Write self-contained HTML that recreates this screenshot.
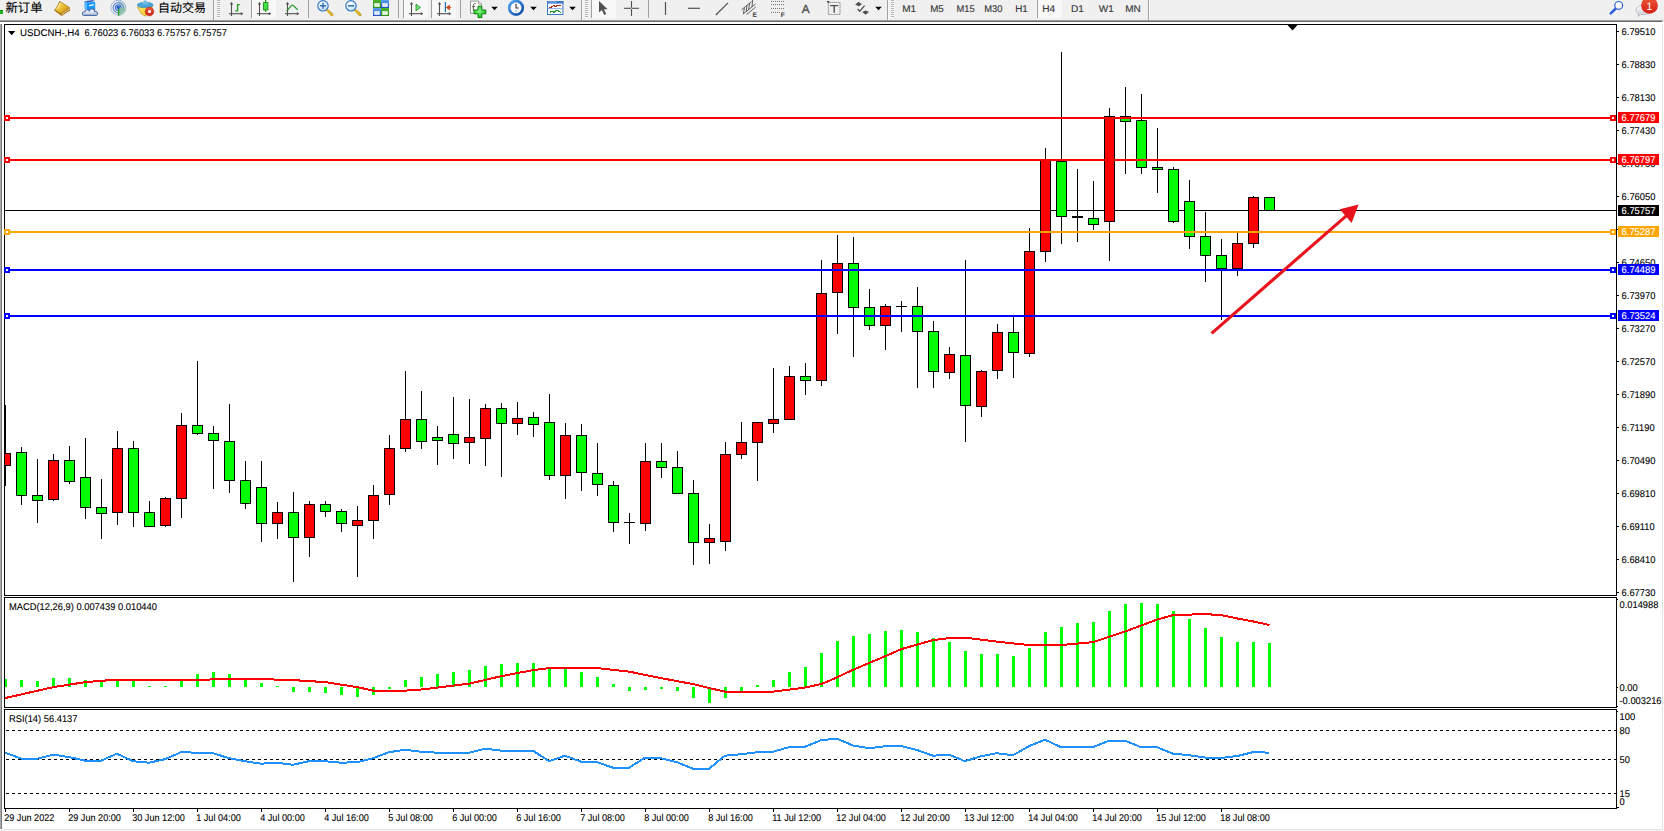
<!DOCTYPE html>
<html lang="zh-CN">
<head>
<meta charset="utf-8">
<title>USDCNH-,H4</title>
<style>
html,body{margin:0;padding:0;background:#fff;width:1664px;height:831px;overflow:hidden}
body{position:relative;font-family:"Liberation Sans","Noto Sans CJK SC",sans-serif}
svg{display:block}
svg text{white-space:pre}
</style>
</head>
<body>
<div id="chartwin" style="position:absolute;left:0;top:0;width:1664px;height:831px">
<svg id="chart" width="1664" height="831" viewBox="0 0 1664 831" font-family='"Liberation Sans", "Noto Sans CJK SC", sans-serif' text-rendering="geometricPrecision" style="position:absolute;left:0;top:0">
<defs><clipPath id="cm"><rect x="5" y="25" width="1611" height="570"/></clipPath><clipPath id="c2"><rect x="5" y="598" width="1611" height="109"/></clipPath><clipPath id="c3"><rect x="5" y="710" width="1611" height="98"/></clipPath></defs>
<g shape-rendering="crispEdges">
<rect x="0" y="22" width="1" height="807" fill="#a9a9a9"/><rect x="1" y="22" width="1" height="807" fill="#787878"/>
<rect x="1662" y="22" width="1" height="807" fill="#e3e3e3"/>
<rect x="2" y="829" width="1661" height="1" fill="#e3e3e3"/><rect x="0" y="830" width="1664" height="1" fill="#f4f4f4"/>
<rect x="4" y="24" width="1" height="785" fill="#000"/>
<rect x="1616" y="24" width="1" height="785" fill="#000"/>
<rect x="4" y="24" width="1613" height="1" fill="#000"/>
<rect x="4" y="595" width="1613" height="1" fill="#000"/>
<rect x="4" y="597" width="1613" height="1" fill="#000"/>
<rect x="4" y="707" width="1613" height="1" fill="#000"/>
<rect x="4" y="709" width="1613" height="1" fill="#000"/>
<rect x="4" y="808" width="1613" height="1" fill="#000"/>
<rect x="2" y="596" width="1617" height="1" fill="#fff"/><rect x="2" y="708" width="1617" height="1" fill="#fff"/>
</g>
<path d="M1287.5 25 L1297.5 25 L1292.5 30.5 Z" fill="#000"/>
<path d="M8 31 L15.4 31 L11.7 35.2 Z" fill="#000"/>
<g shape-rendering="crispEdges" clip-path="url(#cm)">
<rect x="5" y="210" width="1611" height="1" fill="#000"/>
<rect x="5" y="405" width="1" height="81" fill="#000"/>
<rect x="0" y="453" width="11" height="13" fill="#000"/>
<rect x="1" y="454" width="9" height="11" fill="#ff0000"/>
<rect x="21" y="447" width="1" height="58" fill="#000"/>
<rect x="16" y="452" width="11" height="44" fill="#000"/>
<rect x="17" y="453" width="9" height="42" fill="#00ff00"/>
<rect x="37" y="459" width="1" height="64" fill="#000"/>
<rect x="32" y="495" width="11" height="6" fill="#000"/>
<rect x="33" y="496" width="9" height="4" fill="#00ff00"/>
<rect x="53" y="454" width="1" height="47" fill="#000"/>
<rect x="48" y="460" width="11" height="40" fill="#000"/>
<rect x="49" y="461" width="9" height="38" fill="#ff0000"/>
<rect x="69" y="446" width="1" height="38" fill="#000"/>
<rect x="64" y="460" width="11" height="22" fill="#000"/>
<rect x="65" y="461" width="9" height="20" fill="#00ff00"/>
<rect x="85" y="438" width="1" height="81" fill="#000"/>
<rect x="80" y="477" width="11" height="31" fill="#000"/>
<rect x="81" y="478" width="9" height="29" fill="#00ff00"/>
<rect x="101" y="479" width="1" height="60" fill="#000"/>
<rect x="96" y="507" width="11" height="7" fill="#000"/>
<rect x="97" y="508" width="9" height="5" fill="#00ff00"/>
<rect x="117" y="431" width="1" height="94" fill="#000"/>
<rect x="112" y="448" width="11" height="65" fill="#000"/>
<rect x="113" y="449" width="9" height="63" fill="#ff0000"/>
<rect x="133" y="441" width="1" height="86" fill="#000"/>
<rect x="128" y="448" width="11" height="65" fill="#000"/>
<rect x="129" y="449" width="9" height="63" fill="#00ff00"/>
<rect x="149" y="501" width="1" height="26" fill="#000"/>
<rect x="144" y="512" width="11" height="15" fill="#000"/>
<rect x="145" y="513" width="9" height="13" fill="#00ff00"/>
<rect x="165" y="497" width="1" height="30" fill="#000"/>
<rect x="160" y="498" width="11" height="28" fill="#000"/>
<rect x="161" y="499" width="9" height="26" fill="#ff0000"/>
<rect x="181" y="413" width="1" height="105" fill="#000"/>
<rect x="176" y="425" width="11" height="74" fill="#000"/>
<rect x="177" y="426" width="9" height="72" fill="#ff0000"/>
<rect x="197" y="361" width="1" height="74" fill="#000"/>
<rect x="192" y="425" width="11" height="9" fill="#000"/>
<rect x="193" y="426" width="9" height="7" fill="#00ff00"/>
<rect x="213" y="426" width="1" height="63" fill="#000"/>
<rect x="208" y="433" width="11" height="8" fill="#000"/>
<rect x="209" y="434" width="9" height="6" fill="#00ff00"/>
<rect x="229" y="404" width="1" height="89" fill="#000"/>
<rect x="224" y="441" width="11" height="40" fill="#000"/>
<rect x="225" y="442" width="9" height="38" fill="#00ff00"/>
<rect x="245" y="461" width="1" height="48" fill="#000"/>
<rect x="240" y="480" width="11" height="24" fill="#000"/>
<rect x="241" y="481" width="9" height="22" fill="#00ff00"/>
<rect x="261" y="461" width="1" height="81" fill="#000"/>
<rect x="256" y="487" width="11" height="37" fill="#000"/>
<rect x="257" y="488" width="9" height="35" fill="#00ff00"/>
<rect x="277" y="502" width="1" height="37" fill="#000"/>
<rect x="272" y="512" width="11" height="12" fill="#000"/>
<rect x="273" y="513" width="9" height="10" fill="#ff0000"/>
<rect x="293" y="492" width="1" height="90" fill="#000"/>
<rect x="288" y="512" width="11" height="26" fill="#000"/>
<rect x="289" y="513" width="9" height="24" fill="#00ff00"/>
<rect x="309" y="501" width="1" height="56" fill="#000"/>
<rect x="304" y="504" width="11" height="34" fill="#000"/>
<rect x="305" y="505" width="9" height="32" fill="#ff0000"/>
<rect x="325" y="501" width="1" height="16" fill="#000"/>
<rect x="320" y="504" width="11" height="8" fill="#000"/>
<rect x="321" y="505" width="9" height="6" fill="#00ff00"/>
<rect x="341" y="509" width="1" height="23" fill="#000"/>
<rect x="336" y="511" width="11" height="13" fill="#000"/>
<rect x="337" y="512" width="9" height="11" fill="#00ff00"/>
<rect x="357" y="506" width="1" height="71" fill="#000"/>
<rect x="352" y="520" width="11" height="6" fill="#000"/>
<rect x="353" y="521" width="9" height="4" fill="#ff0000"/>
<rect x="373" y="485" width="1" height="54" fill="#000"/>
<rect x="368" y="495" width="11" height="26" fill="#000"/>
<rect x="369" y="496" width="9" height="24" fill="#ff0000"/>
<rect x="389" y="435" width="1" height="70" fill="#000"/>
<rect x="384" y="448" width="11" height="47" fill="#000"/>
<rect x="385" y="449" width="9" height="45" fill="#ff0000"/>
<rect x="405" y="371" width="1" height="81" fill="#000"/>
<rect x="400" y="419" width="11" height="30" fill="#000"/>
<rect x="401" y="420" width="9" height="28" fill="#ff0000"/>
<rect x="421" y="391" width="1" height="58" fill="#000"/>
<rect x="416" y="419" width="11" height="23" fill="#000"/>
<rect x="417" y="420" width="9" height="21" fill="#00ff00"/>
<rect x="437" y="426" width="1" height="39" fill="#000"/>
<rect x="432" y="437" width="11" height="4" fill="#000"/>
<rect x="433" y="438" width="9" height="2" fill="#00ff00"/>
<rect x="453" y="397" width="1" height="62" fill="#000"/>
<rect x="448" y="434" width="11" height="10" fill="#000"/>
<rect x="449" y="435" width="9" height="8" fill="#00ff00"/>
<rect x="469" y="399" width="1" height="65" fill="#000"/>
<rect x="464" y="437" width="11" height="6" fill="#000"/>
<rect x="465" y="438" width="9" height="4" fill="#ff0000"/>
<rect x="485" y="404" width="1" height="62" fill="#000"/>
<rect x="480" y="408" width="11" height="31" fill="#000"/>
<rect x="481" y="409" width="9" height="29" fill="#ff0000"/>
<rect x="501" y="403" width="1" height="74" fill="#000"/>
<rect x="496" y="408" width="11" height="16" fill="#000"/>
<rect x="497" y="409" width="9" height="14" fill="#00ff00"/>
<rect x="517" y="402" width="1" height="33" fill="#000"/>
<rect x="512" y="418" width="11" height="6" fill="#000"/>
<rect x="513" y="419" width="9" height="4" fill="#ff0000"/>
<rect x="533" y="412" width="1" height="25" fill="#000"/>
<rect x="528" y="417" width="11" height="8" fill="#000"/>
<rect x="529" y="418" width="9" height="6" fill="#00ff00"/>
<rect x="549" y="394" width="1" height="86" fill="#000"/>
<rect x="544" y="422" width="11" height="54" fill="#000"/>
<rect x="545" y="423" width="9" height="52" fill="#00ff00"/>
<rect x="565" y="423" width="1" height="76" fill="#000"/>
<rect x="560" y="435" width="11" height="41" fill="#000"/>
<rect x="561" y="436" width="9" height="39" fill="#ff0000"/>
<rect x="581" y="424" width="1" height="67" fill="#000"/>
<rect x="576" y="435" width="11" height="38" fill="#000"/>
<rect x="577" y="436" width="9" height="36" fill="#00ff00"/>
<rect x="597" y="443" width="1" height="53" fill="#000"/>
<rect x="592" y="473" width="11" height="12" fill="#000"/>
<rect x="593" y="474" width="9" height="10" fill="#00ff00"/>
<rect x="613" y="481" width="1" height="51" fill="#000"/>
<rect x="608" y="485" width="11" height="38" fill="#000"/>
<rect x="609" y="486" width="9" height="36" fill="#00ff00"/>
<rect x="629" y="513" width="1" height="31" fill="#000"/>
<rect x="624" y="522" width="11" height="1" fill="#000"/>
<rect x="645" y="443" width="1" height="88" fill="#000"/>
<rect x="640" y="461" width="11" height="63" fill="#000"/>
<rect x="641" y="462" width="9" height="61" fill="#ff0000"/>
<rect x="661" y="443" width="1" height="35" fill="#000"/>
<rect x="656" y="461" width="11" height="7" fill="#000"/>
<rect x="657" y="462" width="9" height="5" fill="#00ff00"/>
<rect x="677" y="451" width="1" height="43" fill="#000"/>
<rect x="672" y="467" width="11" height="27" fill="#000"/>
<rect x="673" y="468" width="9" height="25" fill="#00ff00"/>
<rect x="693" y="480" width="1" height="85" fill="#000"/>
<rect x="688" y="493" width="11" height="50" fill="#000"/>
<rect x="689" y="494" width="9" height="48" fill="#00ff00"/>
<rect x="709" y="524" width="1" height="40" fill="#000"/>
<rect x="704" y="538" width="11" height="5" fill="#000"/>
<rect x="705" y="539" width="9" height="3" fill="#ff0000"/>
<rect x="725" y="442" width="1" height="109" fill="#000"/>
<rect x="720" y="454" width="11" height="88" fill="#000"/>
<rect x="721" y="455" width="9" height="86" fill="#ff0000"/>
<rect x="741" y="422" width="1" height="37" fill="#000"/>
<rect x="736" y="442" width="11" height="13" fill="#000"/>
<rect x="737" y="443" width="9" height="11" fill="#ff0000"/>
<rect x="757" y="422" width="1" height="59" fill="#000"/>
<rect x="752" y="422" width="11" height="21" fill="#000"/>
<rect x="753" y="423" width="9" height="19" fill="#ff0000"/>
<rect x="773" y="368" width="1" height="65" fill="#000"/>
<rect x="768" y="419" width="11" height="5" fill="#000"/>
<rect x="769" y="420" width="9" height="3" fill="#ff0000"/>
<rect x="789" y="366" width="1" height="54" fill="#000"/>
<rect x="784" y="376" width="11" height="44" fill="#000"/>
<rect x="785" y="377" width="9" height="42" fill="#ff0000"/>
<rect x="805" y="363" width="1" height="32" fill="#000"/>
<rect x="800" y="376" width="11" height="5" fill="#000"/>
<rect x="801" y="377" width="9" height="3" fill="#00ff00"/>
<rect x="821" y="260" width="1" height="126" fill="#000"/>
<rect x="816" y="293" width="11" height="88" fill="#000"/>
<rect x="817" y="294" width="9" height="86" fill="#ff0000"/>
<rect x="837" y="235" width="1" height="99" fill="#000"/>
<rect x="832" y="263" width="11" height="30" fill="#000"/>
<rect x="833" y="264" width="9" height="28" fill="#ff0000"/>
<rect x="853" y="237" width="1" height="120" fill="#000"/>
<rect x="848" y="263" width="11" height="45" fill="#000"/>
<rect x="849" y="264" width="9" height="43" fill="#00ff00"/>
<rect x="869" y="289" width="1" height="41" fill="#000"/>
<rect x="864" y="307" width="11" height="19" fill="#000"/>
<rect x="865" y="308" width="9" height="17" fill="#00ff00"/>
<rect x="885" y="304" width="1" height="46" fill="#000"/>
<rect x="880" y="306" width="11" height="20" fill="#000"/>
<rect x="881" y="307" width="9" height="18" fill="#ff0000"/>
<rect x="901" y="301" width="1" height="31" fill="#000"/>
<rect x="896" y="306" width="11" height="1" fill="#000"/>
<rect x="917" y="287" width="1" height="101" fill="#000"/>
<rect x="912" y="306" width="11" height="26" fill="#000"/>
<rect x="913" y="307" width="9" height="24" fill="#00ff00"/>
<rect x="933" y="321" width="1" height="67" fill="#000"/>
<rect x="928" y="331" width="11" height="41" fill="#000"/>
<rect x="929" y="332" width="9" height="39" fill="#00ff00"/>
<rect x="949" y="347" width="1" height="32" fill="#000"/>
<rect x="944" y="354" width="11" height="19" fill="#000"/>
<rect x="945" y="355" width="9" height="17" fill="#ff0000"/>
<rect x="965" y="260" width="1" height="182" fill="#000"/>
<rect x="960" y="355" width="11" height="51" fill="#000"/>
<rect x="961" y="356" width="9" height="49" fill="#00ff00"/>
<rect x="981" y="370" width="1" height="47" fill="#000"/>
<rect x="976" y="371" width="11" height="36" fill="#000"/>
<rect x="977" y="372" width="9" height="34" fill="#ff0000"/>
<rect x="997" y="324" width="1" height="55" fill="#000"/>
<rect x="992" y="332" width="11" height="39" fill="#000"/>
<rect x="993" y="333" width="9" height="37" fill="#ff0000"/>
<rect x="1013" y="316" width="1" height="62" fill="#000"/>
<rect x="1008" y="332" width="11" height="21" fill="#000"/>
<rect x="1009" y="333" width="9" height="19" fill="#00ff00"/>
<rect x="1029" y="228" width="1" height="129" fill="#000"/>
<rect x="1024" y="251" width="11" height="103" fill="#000"/>
<rect x="1025" y="252" width="9" height="101" fill="#ff0000"/>
<rect x="1045" y="148" width="1" height="114" fill="#000"/>
<rect x="1040" y="160" width="11" height="92" fill="#000"/>
<rect x="1041" y="161" width="9" height="90" fill="#ff0000"/>
<rect x="1061" y="52" width="1" height="192" fill="#000"/>
<rect x="1056" y="161" width="11" height="56" fill="#000"/>
<rect x="1057" y="162" width="9" height="54" fill="#00ff00"/>
<rect x="1077" y="169" width="1" height="73" fill="#000"/>
<rect x="1072" y="216" width="11" height="2" fill="#000"/>
<rect x="1093" y="181" width="1" height="49" fill="#000"/>
<rect x="1088" y="218" width="11" height="7" fill="#000"/>
<rect x="1089" y="219" width="9" height="5" fill="#00ff00"/>
<rect x="1109" y="108" width="1" height="153" fill="#000"/>
<rect x="1104" y="116" width="11" height="106" fill="#000"/>
<rect x="1105" y="117" width="9" height="104" fill="#ff0000"/>
<rect x="1125" y="87" width="1" height="87" fill="#000"/>
<rect x="1120" y="116" width="11" height="6" fill="#000"/>
<rect x="1121" y="117" width="9" height="4" fill="#00ff00"/>
<rect x="1141" y="94" width="1" height="80" fill="#000"/>
<rect x="1136" y="120" width="11" height="48" fill="#000"/>
<rect x="1137" y="121" width="9" height="46" fill="#00ff00"/>
<rect x="1157" y="128" width="1" height="65" fill="#000"/>
<rect x="1152" y="167" width="11" height="3" fill="#000"/>
<rect x="1153" y="168" width="9" height="1" fill="#00ff00"/>
<rect x="1173" y="167" width="1" height="56" fill="#000"/>
<rect x="1168" y="169" width="11" height="53" fill="#000"/>
<rect x="1169" y="170" width="9" height="51" fill="#00ff00"/>
<rect x="1189" y="180" width="1" height="69" fill="#000"/>
<rect x="1184" y="201" width="11" height="36" fill="#000"/>
<rect x="1185" y="202" width="9" height="34" fill="#00ff00"/>
<rect x="1205" y="212" width="1" height="70" fill="#000"/>
<rect x="1200" y="236" width="11" height="20" fill="#000"/>
<rect x="1201" y="237" width="9" height="18" fill="#00ff00"/>
<rect x="1221" y="239" width="1" height="81" fill="#000"/>
<rect x="1216" y="255" width="11" height="14" fill="#000"/>
<rect x="1217" y="256" width="9" height="12" fill="#00ff00"/>
<rect x="1237" y="233" width="1" height="43" fill="#000"/>
<rect x="1232" y="243" width="11" height="26" fill="#000"/>
<rect x="1233" y="244" width="9" height="24" fill="#ff0000"/>
<rect x="1253" y="196" width="1" height="52" fill="#000"/>
<rect x="1248" y="197" width="11" height="47" fill="#000"/>
<rect x="1249" y="198" width="9" height="45" fill="#ff0000"/>
<rect x="1269" y="197" width="1" height="14" fill="#000"/>
<rect x="1264" y="197" width="11" height="14" fill="#000"/>
<rect x="1265" y="198" width="9" height="12" fill="#00ff00"/>
</g>
<g shape-rendering="crispEdges">
<rect x="5" y="117" width="1611" height="2" fill="#ff0000"/>
<rect x="4" y="115" width="6" height="6" fill="#ff0000"/><rect x="6" y="117" width="2" height="2" fill="#fff"/>
<rect x="1610" y="115" width="6" height="6" fill="#ff0000"/><rect x="1612" y="117" width="2" height="2" fill="#fff"/>
<rect x="5" y="159" width="1611" height="2" fill="#ff0000"/>
<rect x="4" y="157" width="6" height="6" fill="#ff0000"/><rect x="6" y="159" width="2" height="2" fill="#fff"/>
<rect x="1610" y="157" width="6" height="6" fill="#ff0000"/><rect x="1612" y="159" width="2" height="2" fill="#fff"/>
<rect x="5" y="231" width="1611" height="2" fill="#ffa500"/>
<rect x="4" y="229" width="6" height="6" fill="#ffa500"/><rect x="6" y="231" width="2" height="2" fill="#fff"/>
<rect x="1610" y="229" width="6" height="6" fill="#ffa500"/><rect x="1612" y="231" width="2" height="2" fill="#fff"/>
<rect x="5" y="269" width="1611" height="2" fill="#0000ff"/>
<rect x="4" y="267" width="6" height="6" fill="#0000ff"/><rect x="6" y="269" width="2" height="2" fill="#fff"/>
<rect x="1610" y="267" width="6" height="6" fill="#0000ff"/><rect x="1612" y="269" width="2" height="2" fill="#fff"/>
<rect x="5" y="315" width="1611" height="2" fill="#0000ff"/>
<rect x="4" y="313" width="6" height="6" fill="#0000ff"/><rect x="6" y="315" width="2" height="2" fill="#fff"/>
<rect x="1610" y="313" width="6" height="6" fill="#0000ff"/><rect x="1612" y="315" width="2" height="2" fill="#fff"/>
</g>
<g><line x1="1211.6" y1="333.4" x2="1348" y2="214.3" stroke="#e8131d" stroke-width="3.1"/>
<path d="M1358.6 204.6 L1339.8 209.2 L1351.6 223 Z" fill="#e8131d"/></g>
<g shape-rendering="crispEdges">
<rect x="1617" y="31" width="2" height="1" fill="#000"/>
<rect x="1617" y="64" width="2" height="1" fill="#000"/>
<rect x="1617" y="97" width="2" height="1" fill="#000"/>
<rect x="1617" y="130" width="2" height="1" fill="#000"/>
<rect x="1617" y="163" width="2" height="1" fill="#000"/>
<rect x="1617" y="196" width="2" height="1" fill="#000"/>
<rect x="1617" y="229" width="2" height="1" fill="#000"/>
<rect x="1617" y="262" width="2" height="1" fill="#000"/>
<rect x="1617" y="295" width="2" height="1" fill="#000"/>
<rect x="1617" y="328" width="2" height="1" fill="#000"/>
<rect x="1617" y="361" width="2" height="1" fill="#000"/>
<rect x="1617" y="394" width="2" height="1" fill="#000"/>
<rect x="1617" y="427" width="2" height="1" fill="#000"/>
<rect x="1617" y="460" width="2" height="1" fill="#000"/>
<rect x="1617" y="493" width="2" height="1" fill="#000"/>
<rect x="1617" y="526" width="2" height="1" fill="#000"/>
<rect x="1617" y="559" width="2" height="1" fill="#000"/>
<rect x="1617" y="592" width="2" height="1" fill="#000"/>
</g>
<text transform="translate(1621.6,35) scale(0.955,1)" font-size="9.8" fill="#000" stroke="#000" stroke-width="0.1" text-anchor="start" >6.79510</text>
<text transform="translate(1621.6,68) scale(0.955,1)" font-size="9.8" fill="#000" stroke="#000" stroke-width="0.1" text-anchor="start" >6.78830</text>
<text transform="translate(1621.6,101) scale(0.955,1)" font-size="9.8" fill="#000" stroke="#000" stroke-width="0.1" text-anchor="start" >6.78130</text>
<text transform="translate(1621.6,134) scale(0.955,1)" font-size="9.8" fill="#000" stroke="#000" stroke-width="0.1" text-anchor="start" >6.77430</text>
<text transform="translate(1621.6,167) scale(0.955,1)" font-size="9.8" fill="#000" stroke="#000" stroke-width="0.1" text-anchor="start" >6.76750</text>
<text transform="translate(1621.6,200) scale(0.955,1)" font-size="9.8" fill="#000" stroke="#000" stroke-width="0.1" text-anchor="start" >6.76050</text>
<text transform="translate(1621.6,233) scale(0.955,1)" font-size="9.8" fill="#000" stroke="#000" stroke-width="0.1" text-anchor="start" >6.75350</text>
<text transform="translate(1621.6,266) scale(0.955,1)" font-size="9.8" fill="#000" stroke="#000" stroke-width="0.1" text-anchor="start" >6.74650</text>
<text transform="translate(1621.6,299) scale(0.955,1)" font-size="9.8" fill="#000" stroke="#000" stroke-width="0.1" text-anchor="start" >6.73970</text>
<text transform="translate(1621.6,332) scale(0.955,1)" font-size="9.8" fill="#000" stroke="#000" stroke-width="0.1" text-anchor="start" >6.73270</text>
<text transform="translate(1621.6,365) scale(0.955,1)" font-size="9.8" fill="#000" stroke="#000" stroke-width="0.1" text-anchor="start" >6.72570</text>
<text transform="translate(1621.6,398) scale(0.955,1)" font-size="9.8" fill="#000" stroke="#000" stroke-width="0.1" text-anchor="start" >6.71890</text>
<text transform="translate(1621.6,431) scale(0.955,1)" font-size="9.8" fill="#000" stroke="#000" stroke-width="0.1" text-anchor="start" >6.71190</text>
<text transform="translate(1621.6,464) scale(0.955,1)" font-size="9.8" fill="#000" stroke="#000" stroke-width="0.1" text-anchor="start" >6.70490</text>
<text transform="translate(1621.6,497) scale(0.955,1)" font-size="9.8" fill="#000" stroke="#000" stroke-width="0.1" text-anchor="start" >6.69810</text>
<text transform="translate(1621.6,530) scale(0.955,1)" font-size="9.8" fill="#000" stroke="#000" stroke-width="0.1" text-anchor="start" >6.69110</text>
<text transform="translate(1621.6,563) scale(0.955,1)" font-size="9.8" fill="#000" stroke="#000" stroke-width="0.1" text-anchor="start" >6.68410</text>
<text transform="translate(1621.6,596) scale(0.955,1)" font-size="9.8" fill="#000" stroke="#000" stroke-width="0.1" text-anchor="start" >6.67730</text>
<g shape-rendering="crispEdges">
<rect x="1618" y="112" width="41" height="11" fill="#ff0000"/>
<rect x="1618" y="154" width="41" height="11" fill="#ff0000"/>
<rect x="1618" y="226" width="41" height="11" fill="#ffa500"/>
<rect x="1618" y="264" width="41" height="11" fill="#0000ff"/>
<rect x="1618" y="310" width="41" height="11" fill="#0000ff"/>
<rect x="1618" y="205" width="41" height="11" fill="#000"/>
</g>
<text transform="translate(1621.6,121) scale(0.955,1)" font-size="9.8" fill="#fff" stroke="#fff" stroke-width="0.1" text-anchor="start" >6.77679</text>
<text transform="translate(1621.6,163) scale(0.955,1)" font-size="9.8" fill="#fff" stroke="#fff" stroke-width="0.1" text-anchor="start" >6.76797</text>
<text transform="translate(1621.6,235) scale(0.955,1)" font-size="9.8" fill="#fff" stroke="#fff" stroke-width="0.1" text-anchor="start" >6.75287</text>
<text transform="translate(1621.6,273) scale(0.955,1)" font-size="9.8" fill="#fff" stroke="#fff" stroke-width="0.1" text-anchor="start" >6.74489</text>
<text transform="translate(1621.6,319) scale(0.955,1)" font-size="9.8" fill="#fff" stroke="#fff" stroke-width="0.1" text-anchor="start" >6.73524</text>
<text transform="translate(1621.6,214) scale(0.955,1)" font-size="9.8" fill="#fff" stroke="#fff" stroke-width="0.1" text-anchor="start" >6.75757</text>
<text transform="translate(20.1,36) scale(0.985,1)" font-size="9.8" fill="#000" stroke="#000" stroke-width="0.1" text-anchor="start" >USDCNH-,H4</text>
<text transform="translate(84.6,36) scale(0.95,1)" font-size="9.8" fill="#000" stroke="#000" stroke-width="0.1" text-anchor="start" >6.76023 6.76033 6.75757 6.75757</text>
<g shape-rendering="crispEdges" clip-path="url(#c2)">
<rect x="4" y="679" width="3" height="8" fill="#00ff00"/>
<rect x="20" y="680" width="3" height="7" fill="#00ff00"/>
<rect x="36" y="681" width="3" height="6" fill="#00ff00"/>
<rect x="52" y="678" width="3" height="9" fill="#00ff00"/>
<rect x="68" y="678" width="3" height="9" fill="#00ff00"/>
<rect x="84" y="680" width="3" height="7" fill="#00ff00"/>
<rect x="100" y="682" width="3" height="5" fill="#00ff00"/>
<rect x="116" y="679" width="3" height="8" fill="#00ff00"/>
<rect x="132" y="681" width="3" height="6" fill="#00ff00"/>
<rect x="148" y="686" width="3" height="1" fill="#00ff00"/>
<rect x="164" y="686" width="3" height="1" fill="#00ff00"/>
<rect x="180" y="679" width="3" height="8" fill="#00ff00"/>
<rect x="196" y="674" width="3" height="13" fill="#00ff00"/>
<rect x="212" y="672" width="3" height="15" fill="#00ff00"/>
<rect x="228" y="674" width="3" height="13" fill="#00ff00"/>
<rect x="244" y="679" width="3" height="8" fill="#00ff00"/>
<rect x="260" y="683" width="3" height="4" fill="#00ff00"/>
<rect x="276" y="686" width="3" height="1" fill="#00ff00"/>
<rect x="292" y="687" width="3" height="5" fill="#00ff00"/>
<rect x="308" y="687" width="3" height="5" fill="#00ff00"/>
<rect x="324" y="687" width="3" height="6" fill="#00ff00"/>
<rect x="340" y="687" width="3" height="8" fill="#00ff00"/>
<rect x="356" y="687" width="3" height="10" fill="#00ff00"/>
<rect x="372" y="687" width="3" height="8" fill="#00ff00"/>
<rect x="388" y="687" width="3" height="2" fill="#00ff00"/>
<rect x="404" y="680" width="3" height="7" fill="#00ff00"/>
<rect x="420" y="677" width="3" height="10" fill="#00ff00"/>
<rect x="436" y="674" width="3" height="13" fill="#00ff00"/>
<rect x="452" y="672" width="3" height="15" fill="#00ff00"/>
<rect x="468" y="670" width="3" height="17" fill="#00ff00"/>
<rect x="484" y="666" width="3" height="21" fill="#00ff00"/>
<rect x="500" y="664" width="3" height="23" fill="#00ff00"/>
<rect x="516" y="663" width="3" height="24" fill="#00ff00"/>
<rect x="532" y="663" width="3" height="24" fill="#00ff00"/>
<rect x="548" y="669" width="3" height="18" fill="#00ff00"/>
<rect x="564" y="669" width="3" height="18" fill="#00ff00"/>
<rect x="580" y="672" width="3" height="15" fill="#00ff00"/>
<rect x="596" y="677" width="3" height="10" fill="#00ff00"/>
<rect x="612" y="684" width="3" height="3" fill="#00ff00"/>
<rect x="628" y="687" width="3" height="4" fill="#00ff00"/>
<rect x="644" y="687" width="3" height="3" fill="#00ff00"/>
<rect x="660" y="687" width="3" height="2" fill="#00ff00"/>
<rect x="676" y="687" width="3" height="4" fill="#00ff00"/>
<rect x="692" y="687" width="3" height="11" fill="#00ff00"/>
<rect x="708" y="687" width="3" height="16" fill="#00ff00"/>
<rect x="724" y="687" width="3" height="11" fill="#00ff00"/>
<rect x="740" y="687" width="3" height="4" fill="#00ff00"/>
<rect x="756" y="685" width="3" height="2" fill="#00ff00"/>
<rect x="772" y="680" width="3" height="7" fill="#00ff00"/>
<rect x="788" y="672" width="3" height="15" fill="#00ff00"/>
<rect x="804" y="667" width="3" height="20" fill="#00ff00"/>
<rect x="820" y="653" width="3" height="34" fill="#00ff00"/>
<rect x="836" y="641" width="3" height="46" fill="#00ff00"/>
<rect x="852" y="636" width="3" height="51" fill="#00ff00"/>
<rect x="868" y="634" width="3" height="53" fill="#00ff00"/>
<rect x="884" y="631" width="3" height="56" fill="#00ff00"/>
<rect x="900" y="630" width="3" height="57" fill="#00ff00"/>
<rect x="916" y="632" width="3" height="55" fill="#00ff00"/>
<rect x="932" y="638" width="3" height="49" fill="#00ff00"/>
<rect x="948" y="642" width="3" height="45" fill="#00ff00"/>
<rect x="964" y="651" width="3" height="36" fill="#00ff00"/>
<rect x="980" y="654" width="3" height="33" fill="#00ff00"/>
<rect x="996" y="654" width="3" height="33" fill="#00ff00"/>
<rect x="1012" y="656" width="3" height="31" fill="#00ff00"/>
<rect x="1028" y="648" width="3" height="39" fill="#00ff00"/>
<rect x="1044" y="632" width="3" height="55" fill="#00ff00"/>
<rect x="1060" y="627" width="3" height="60" fill="#00ff00"/>
<rect x="1076" y="623" width="3" height="64" fill="#00ff00"/>
<rect x="1092" y="622" width="3" height="65" fill="#00ff00"/>
<rect x="1108" y="611" width="3" height="76" fill="#00ff00"/>
<rect x="1124" y="604" width="3" height="83" fill="#00ff00"/>
<rect x="1140" y="603" width="3" height="84" fill="#00ff00"/>
<rect x="1156" y="604" width="3" height="83" fill="#00ff00"/>
<rect x="1172" y="611" width="3" height="76" fill="#00ff00"/>
<rect x="1188" y="619" width="3" height="68" fill="#00ff00"/>
<rect x="1204" y="628" width="3" height="59" fill="#00ff00"/>
<rect x="1220" y="637" width="3" height="50" fill="#00ff00"/>
<rect x="1236" y="642" width="3" height="45" fill="#00ff00"/>
<rect x="1252" y="642" width="3" height="45" fill="#00ff00"/>
<rect x="1268" y="643" width="3" height="44" fill="#00ff00"/>
</g>
<polyline points="5,698.1 53.5,687.1 85.5,682.1 117,679.6 133,680.1 181,680.1 229.5,679.1 261,679.1 293,680.1 325,682.1 357,687.1 373,690.6 405,690.6 416,690.1 437.5,687.6 469.5,683.6 501.5,676.1 533,670.1 549,668.1 597,668.1 629,671.6 661,678.1 693,684.1 709,688.1 725,691.6 773,691.6 805,687.6 821,684.1 832,679.6 853.5,669.6 885.5,656.1 901.5,649.1 933,640.1 949,638.1 965,637.6 997,641.6 1029,645.1 1061,645.1 1093,642.1 1125,631.6 1157,619.6 1173,615.1 1189,614.6 1205,614.1 1221,615.1 1237.5,618.5 1253.5,621.5 1269.5,625" fill="none" stroke="#ff0000" stroke-width="2" stroke-linejoin="round" shape-rendering="crispEdges" clip-path="url(#c2)"/>
<text transform="translate(9,610) scale(0.953,1)" font-size="9.8" fill="#000" stroke="#000" stroke-width="0.1" text-anchor="start" >MACD(12,26,9) 0.007439 0.010440</text>
<text transform="translate(1619.5,608) scale(0.953,1)" font-size="9.8" fill="#000" stroke="#000" stroke-width="0.1" text-anchor="start" >0.014988</text>
<text transform="translate(1619.5,691) scale(0.953,1)" font-size="9.8" fill="#000" stroke="#000" stroke-width="0.1" text-anchor="start" >0.00</text>
<text transform="translate(1619.5,704) scale(0.953,1)" font-size="9.8" fill="#000" stroke="#000" stroke-width="0.1" text-anchor="start" >-0.003216</text>
<rect x="1617" y="687" width="1" height="1" fill="#000" shape-rendering="crispEdges"/><rect x="1617" y="706" width="1" height="1" fill="#000" shape-rendering="crispEdges"/><rect x="1617" y="711" width="1" height="1" fill="#000" shape-rendering="crispEdges"/><rect x="1617" y="807" width="2" height="1" fill="#000" shape-rendering="crispEdges"/><rect x="1617" y="599" width="1" height="1" fill="#000" shape-rendering="crispEdges"/>
<g shape-rendering="crispEdges">
<line x1="6" y1="730.5" x2="1616" y2="730.5" stroke="#000" stroke-width="1" stroke-dasharray="3 3"/>
<line x1="6" y1="759.5" x2="1616" y2="759.5" stroke="#000" stroke-width="1" stroke-dasharray="3 3"/>
<line x1="6" y1="793.5" x2="1616" y2="793.5" stroke="#000" stroke-width="1" stroke-dasharray="3 3"/>
</g>
<polyline points="5,752.7 21.5,758.7 37.5,758.7 53.5,754.7 69.5,757.2 85.5,760.7 101,760.7 117,753.7 133,761.2 149,762.7 165,759.2 181,752.2 197,752.7 213,753.2 229,758.2 245,761.2 261,763.7 277,762.7 293,764.7 309,761.2 325,761.2 341,762.7 357,762.2 373,758.2 389,752.2 405,749.7 421,751.7 437.5,752.7 469.5,752.7 485.5,748.7 501.5,750.7 533,750.7 549,761.2 565,755.7 581,761.7 597,762.2 613,767.7 629,767.7 645,757.7 661,758.2 677,762.2 693,768.7 709,768.7 725,755.7 741,754.2 757,752.2 773,751.7 789,747.2 805,746.7 821,740.2 837,738.7 853.5,745.7 869.5,748.2 885.5,746.2 901.5,746.2 917.5,750.2 933,755.7 949,754.7 965,761.2 981,756.2 997,753.2 1013,755.2 1029,746.2 1045,739.7 1061,747.2 1093,747.2 1109,740.7 1125,740.7 1141,747.2 1157,747.2 1173,753.7 1189,755.2 1205,757.5 1221.5,758 1237.5,756 1253.5,752 1269.5,752.7" fill="none" stroke="#1e90ff" stroke-width="2" stroke-linejoin="round" shape-rendering="crispEdges" clip-path="url(#c3)"/>
<text transform="translate(9,722) scale(0.953,1)" font-size="9.8" fill="#000" stroke="#000" stroke-width="0.1" text-anchor="start" >RSI(14) 56.4137</text>
<text transform="translate(1619.5,720) scale(0.953,1)" font-size="9.8" fill="#000" stroke="#000" stroke-width="0.1" text-anchor="start" >100</text>
<text transform="translate(1619.5,734) scale(0.953,1)" font-size="9.8" fill="#000" stroke="#000" stroke-width="0.1" text-anchor="start" >80</text>
<text transform="translate(1619.5,763) scale(0.953,1)" font-size="9.8" fill="#000" stroke="#000" stroke-width="0.1" text-anchor="start" >50</text>
<text transform="translate(1619.5,797) scale(0.953,1)" font-size="9.8" fill="#000" stroke="#000" stroke-width="0.1" text-anchor="start" >15</text>
<text transform="translate(1619.5,805) scale(0.953,1)" font-size="9.8" fill="#000" stroke="#000" stroke-width="0.1" text-anchor="start" >0</text>
<g shape-rendering="crispEdges">
<rect x="5" y="809" width="1" height="3" fill="#000"/>
<rect x="69" y="809" width="1" height="3" fill="#000"/>
<rect x="133" y="809" width="1" height="3" fill="#000"/>
<rect x="197" y="809" width="1" height="3" fill="#000"/>
<rect x="261" y="809" width="1" height="3" fill="#000"/>
<rect x="325" y="809" width="1" height="3" fill="#000"/>
<rect x="389" y="809" width="1" height="3" fill="#000"/>
<rect x="453" y="809" width="1" height="3" fill="#000"/>
<rect x="517" y="809" width="1" height="3" fill="#000"/>
<rect x="581" y="809" width="1" height="3" fill="#000"/>
<rect x="645" y="809" width="1" height="3" fill="#000"/>
<rect x="709" y="809" width="1" height="3" fill="#000"/>
<rect x="773" y="809" width="1" height="3" fill="#000"/>
<rect x="837" y="809" width="1" height="3" fill="#000"/>
<rect x="901" y="809" width="1" height="3" fill="#000"/>
<rect x="965" y="809" width="1" height="3" fill="#000"/>
<rect x="1029" y="809" width="1" height="3" fill="#000"/>
<rect x="1093" y="809" width="1" height="3" fill="#000"/>
<rect x="1157" y="809" width="1" height="3" fill="#000"/>
<rect x="1221" y="809" width="1" height="3" fill="#000"/>
</g>
<text transform="translate(4.2,821) scale(0.93,1)" font-size="9.8" fill="#000" stroke="#000" stroke-width="0.1" text-anchor="start" >29 Jun 2022</text>
<text transform="translate(68.2,821) scale(0.93,1)" font-size="9.8" fill="#000" stroke="#000" stroke-width="0.1" text-anchor="start" >29 Jun 20:00</text>
<text transform="translate(132.2,821) scale(0.93,1)" font-size="9.8" fill="#000" stroke="#000" stroke-width="0.1" text-anchor="start" >30 Jun 12:00</text>
<text transform="translate(196.2,821) scale(0.93,1)" font-size="9.8" fill="#000" stroke="#000" stroke-width="0.1" text-anchor="start" >1 Jul 04:00</text>
<text transform="translate(260.2,821) scale(0.93,1)" font-size="9.8" fill="#000" stroke="#000" stroke-width="0.1" text-anchor="start" >4 Jul 00:00</text>
<text transform="translate(324.2,821) scale(0.93,1)" font-size="9.8" fill="#000" stroke="#000" stroke-width="0.1" text-anchor="start" >4 Jul 16:00</text>
<text transform="translate(388.2,821) scale(0.93,1)" font-size="9.8" fill="#000" stroke="#000" stroke-width="0.1" text-anchor="start" >5 Jul 08:00</text>
<text transform="translate(452.2,821) scale(0.93,1)" font-size="9.8" fill="#000" stroke="#000" stroke-width="0.1" text-anchor="start" >6 Jul 00:00</text>
<text transform="translate(516.2,821) scale(0.93,1)" font-size="9.8" fill="#000" stroke="#000" stroke-width="0.1" text-anchor="start" >6 Jul 16:00</text>
<text transform="translate(580.2,821) scale(0.93,1)" font-size="9.8" fill="#000" stroke="#000" stroke-width="0.1" text-anchor="start" >7 Jul 08:00</text>
<text transform="translate(644.2,821) scale(0.93,1)" font-size="9.8" fill="#000" stroke="#000" stroke-width="0.1" text-anchor="start" >8 Jul 00:00</text>
<text transform="translate(708.2,821) scale(0.93,1)" font-size="9.8" fill="#000" stroke="#000" stroke-width="0.1" text-anchor="start" >8 Jul 16:00</text>
<text transform="translate(772.2,821) scale(0.93,1)" font-size="9.8" fill="#000" stroke="#000" stroke-width="0.1" text-anchor="start" >11 Jul 12:00</text>
<text transform="translate(836.2,821) scale(0.93,1)" font-size="9.8" fill="#000" stroke="#000" stroke-width="0.1" text-anchor="start" >12 Jul 04:00</text>
<text transform="translate(900.2,821) scale(0.93,1)" font-size="9.8" fill="#000" stroke="#000" stroke-width="0.1" text-anchor="start" >12 Jul 20:00</text>
<text transform="translate(964.2,821) scale(0.93,1)" font-size="9.8" fill="#000" stroke="#000" stroke-width="0.1" text-anchor="start" >13 Jul 12:00</text>
<text transform="translate(1028.2,821) scale(0.93,1)" font-size="9.8" fill="#000" stroke="#000" stroke-width="0.1" text-anchor="start" >14 Jul 04:00</text>
<text transform="translate(1092.2,821) scale(0.93,1)" font-size="9.8" fill="#000" stroke="#000" stroke-width="0.1" text-anchor="start" >14 Jul 20:00</text>
<text transform="translate(1156.2,821) scale(0.93,1)" font-size="9.8" fill="#000" stroke="#000" stroke-width="0.1" text-anchor="start" >15 Jul 12:00</text>
<text transform="translate(1220.2,821) scale(0.93,1)" font-size="9.8" fill="#000" stroke="#000" stroke-width="0.1" text-anchor="start" >18 Jul 08:00</text>
</svg>
</div>
<div id="tb" style="position:absolute;left:0;top:0;width:1664px;height:24px">
<svg id="toolbar" width="1664" height="24" viewBox="0 0 1664 24" font-family='"Liberation Sans", "Noto Sans CJK SC", sans-serif' text-rendering="geometricPrecision" style="position:absolute;left:0;top:0">
<defs><linearGradient id="gold" x1="0" y1="0" x2="1" y2="1"><stop offset="0" stop-color="#fbe27a"/><stop offset="0.55" stop-color="#e9b92e"/><stop offset="1" stop-color="#b07a10"/></linearGradient><linearGradient id="hand" x1="0" y1="0" x2="1" y2="0"><stop offset="0" stop-color="#f3d65a"/><stop offset="1" stop-color="#b8860b"/></linearGradient><radialGradient id="lens" cx="0.4" cy="0.35" r="0.7"><stop offset="0" stop-color="#ffffff"/><stop offset="1" stop-color="#b9e0f7"/></radialGradient><linearGradient id="redb" x1="0" y1="0" x2="0" y2="1"><stop offset="0" stop-color="#ee5a3c"/><stop offset="1" stop-color="#d31d12"/></linearGradient><linearGradient id="blu" x1="0" y1="0" x2="0" y2="1"><stop offset="0" stop-color="#5aa2ee"/><stop offset="1" stop-color="#1c50c8"/></linearGradient><linearGradient id="grn" x1="0" y1="0" x2="0" y2="1"><stop offset="0" stop-color="#4cb52c"/><stop offset="1" stop-color="#2e8f18"/></linearGradient><linearGradient id="cloud" x1="0" y1="0" x2="0" y2="1"><stop offset="0" stop-color="#ffffff"/><stop offset="1" stop-color="#b4c4de"/></linearGradient><linearGradient id="yel" x1="0" y1="0" x2="1" y2="1"><stop offset="0" stop-color="#fbe870"/><stop offset="1" stop-color="#efbe1e"/></linearGradient><linearGradient id="bub" x1="0" y1="0" x2="0" y2="1"><stop offset="0" stop-color="#ffffff"/><stop offset="1" stop-color="#c4c8d2"/></linearGradient><radialGradient id="plusg" cx="0.45" cy="0.4" r="0.6"><stop offset="0" stop-color="#8af58a"/><stop offset="1" stop-color="#14c414"/></radialGradient><linearGradient id="ringg" x1="0" y1="0" x2="1" y2="1"><stop offset="0" stop-color="#4ea6f4"/><stop offset="1" stop-color="#0a44a4"/></linearGradient></defs>
<g shape-rendering="crispEdges">
<rect x="0" y="0" width="1664" height="20" fill="#f0f0f0"/>
<rect x="0" y="20" width="1663" height="1" fill="#a0a0a0"/><rect x="0" y="21" width="1662" height="1" fill="#696969"/>
<rect x="1663" y="20" width="1" height="1" fill="#f0f0f0"/><rect x="1662" y="21" width="2" height="1" fill="#e8e8e8"/>
<rect x="0" y="22" width="1664" height="2" fill="#fff"/>
<rect x="252" y="0" width="24" height="18" fill="#f8f8f8"/>
<rect x="404" y="0" width="24" height="18" fill="#f8f8f8"/>
<rect x="432" y="0" width="24" height="18" fill="#f8f8f8"/>
<rect x="592" y="0" width="24" height="18" fill="#f8f8f8"/>
<rect x="1038" y="0" width="24" height="18" fill="#f8f8f8"/>
<rect x="251" y="0" width="1" height="18" fill="#a0a0a0"/>
<rect x="308" y="0" width="1" height="18" fill="#a0a0a0"/>
<rect x="398" y="0" width="1" height="18" fill="#a0a0a0"/>
<rect x="403" y="0" width="1" height="18" fill="#a0a0a0"/>
<rect x="431" y="0" width="1" height="18" fill="#a0a0a0"/>
<rect x="460" y="0" width="1" height="18" fill="#a0a0a0"/>
<rect x="591" y="0" width="1" height="18" fill="#a0a0a0"/>
<rect x="648" y="0" width="1" height="18" fill="#a0a0a0"/>
<rect x="1037" y="0" width="1" height="18" fill="#a0a0a0"/>
<rect x="213" y="0" width="1" height="20" fill="#a0a0a0"/>
<rect x="214" y="0" width="1" height="20" fill="#fbfbfb"/>
<rect x="581" y="0" width="1" height="20" fill="#a0a0a0"/>
<rect x="582" y="0" width="1" height="20" fill="#fbfbfb"/>
<rect x="887" y="0" width="1" height="20" fill="#a0a0a0"/>
<rect x="888" y="0" width="1" height="20" fill="#fbfbfb"/>
<rect x="1148" y="0" width="1" height="20" fill="#a0a0a0"/>
<rect x="1149" y="0" width="1" height="20" fill="#fbfbfb"/>
<rect x="217" y="0" width="3" height="1" fill="#b4b4b4"/>
<rect x="217" y="1" width="3" height="1" fill="#fafafa"/>
<rect x="217" y="2" width="3" height="1" fill="#b4b4b4"/>
<rect x="217" y="3" width="3" height="1" fill="#fafafa"/>
<rect x="217" y="4" width="3" height="1" fill="#b4b4b4"/>
<rect x="217" y="5" width="3" height="1" fill="#fafafa"/>
<rect x="217" y="6" width="3" height="1" fill="#b4b4b4"/>
<rect x="217" y="7" width="3" height="1" fill="#fafafa"/>
<rect x="217" y="8" width="3" height="1" fill="#b4b4b4"/>
<rect x="217" y="9" width="3" height="1" fill="#fafafa"/>
<rect x="217" y="10" width="3" height="1" fill="#b4b4b4"/>
<rect x="217" y="11" width="3" height="1" fill="#fafafa"/>
<rect x="217" y="12" width="3" height="1" fill="#b4b4b4"/>
<rect x="217" y="13" width="3" height="1" fill="#fafafa"/>
<rect x="217" y="14" width="3" height="1" fill="#b4b4b4"/>
<rect x="217" y="15" width="3" height="1" fill="#fafafa"/>
<rect x="217" y="16" width="3" height="1" fill="#b4b4b4"/>
<rect x="217" y="17" width="3" height="1" fill="#fafafa"/>
<rect x="585" y="0" width="3" height="1" fill="#b4b4b4"/>
<rect x="585" y="1" width="3" height="1" fill="#fafafa"/>
<rect x="585" y="2" width="3" height="1" fill="#b4b4b4"/>
<rect x="585" y="3" width="3" height="1" fill="#fafafa"/>
<rect x="585" y="4" width="3" height="1" fill="#b4b4b4"/>
<rect x="585" y="5" width="3" height="1" fill="#fafafa"/>
<rect x="585" y="6" width="3" height="1" fill="#b4b4b4"/>
<rect x="585" y="7" width="3" height="1" fill="#fafafa"/>
<rect x="585" y="8" width="3" height="1" fill="#b4b4b4"/>
<rect x="585" y="9" width="3" height="1" fill="#fafafa"/>
<rect x="585" y="10" width="3" height="1" fill="#b4b4b4"/>
<rect x="585" y="11" width="3" height="1" fill="#fafafa"/>
<rect x="585" y="12" width="3" height="1" fill="#b4b4b4"/>
<rect x="585" y="13" width="3" height="1" fill="#fafafa"/>
<rect x="585" y="14" width="3" height="1" fill="#b4b4b4"/>
<rect x="585" y="15" width="3" height="1" fill="#fafafa"/>
<rect x="585" y="16" width="3" height="1" fill="#b4b4b4"/>
<rect x="585" y="17" width="3" height="1" fill="#fafafa"/>
<rect x="891" y="0" width="3" height="1" fill="#b4b4b4"/>
<rect x="891" y="1" width="3" height="1" fill="#fafafa"/>
<rect x="891" y="2" width="3" height="1" fill="#b4b4b4"/>
<rect x="891" y="3" width="3" height="1" fill="#fafafa"/>
<rect x="891" y="4" width="3" height="1" fill="#b4b4b4"/>
<rect x="891" y="5" width="3" height="1" fill="#fafafa"/>
<rect x="891" y="6" width="3" height="1" fill="#b4b4b4"/>
<rect x="891" y="7" width="3" height="1" fill="#fafafa"/>
<rect x="891" y="8" width="3" height="1" fill="#b4b4b4"/>
<rect x="891" y="9" width="3" height="1" fill="#fafafa"/>
<rect x="891" y="10" width="3" height="1" fill="#b4b4b4"/>
<rect x="891" y="11" width="3" height="1" fill="#fafafa"/>
<rect x="891" y="12" width="3" height="1" fill="#b4b4b4"/>
<rect x="891" y="13" width="3" height="1" fill="#fafafa"/>
<rect x="891" y="14" width="3" height="1" fill="#b4b4b4"/>
<rect x="891" y="15" width="3" height="1" fill="#fafafa"/>
<rect x="891" y="16" width="3" height="1" fill="#b4b4b4"/>
<rect x="891" y="17" width="3" height="1" fill="#fafafa"/>
<rect x="0" y="10" width="3" height="4" fill="#1fb81f"/><rect x="0" y="10" width="3" height="1" fill="#118811"/>
</g>
<text x="5.4" y="11.6" font-size="12.4" fill="#000" stroke="#000" stroke-width="0.1">新订单</text>
<text x="157.9" y="11.5" font-size="12" fill="#000" stroke="#000" stroke-width="0.1">自动交易</text>
<g><path d="M59.6 1 L69.6 7.2 L70.3 10.2 L61.6 16 L54 10.2 C56.4 8.6 57.6 4.6 59.6 1 Z" fill="#a8700e"/><path d="M60 2 L68.8 7.6 L61 13.4 L55.2 9.8 C57 8 58.4 5 60 2 Z" fill="url(#gold)"/><path d="M61.2 13.9 L69.3 8.1 L69.6 9.4 L61.6 14.9 Z" fill="#d9bf78"/><path d="M60.4 3 L57.2 8.8" stroke="#fff6c0" stroke-width="1.1" opacity=".8"/></g>
<g><path d="M84.4 1.2 L87 2.4 L87 10 L84.4 9 Z" fill="#58b8ff"/><path d="M84.4 1.2 L92.6 0 L95.2 1.2 L87 2.4 Z" fill="#3f5fc0"/><rect x="87" y="2.2" width="8.2" height="8" fill="#1596ff"/><path d="M89 4.9 L93.8 4.1 L93.8 5.6 L89 6.2 Z" fill="#e8f6ff"/><path d="M84.6 15.4 C81.6 15.4 81.8 11.4 84.8 11.8 C85 9.4 88.4 9.2 89.2 10.8 C90.4 8 95 8.6 94.8 11.6 C98.2 11.2 98.4 15.4 95.6 15.4 Z" fill="url(#cloud)" stroke="#4d6ca8" stroke-width="1.1"/></g>
<g fill="none"><path d="M118.3 7.7 L118.3 15.4 A7.7 7.7 0 0 0 126 7.7 A7.7 7.7 0 0 0 118.3 0 Z" fill="#9fcfa4" opacity=".55"/><circle cx="118.3" cy="7.7" r="7.5" stroke="#9db4e4" stroke-width="1"/><circle cx="118.3" cy="7.7" r="5.1" stroke="#5f86d8" stroke-width="1.2"/><circle cx="118.3" cy="7.7" r="2.8" stroke="#3f6fd6" stroke-width="1.2"/><path d="M118.3 7.7 L118.3 15.4 A7.7 7.7 0 0 0 126 7.7 Z" fill="#8fc896" opacity=".6"/><path d="M118.6 8 L118.6 15.6" stroke="#1fa01f" stroke-width="1.4"/><circle cx="118.2" cy="7.4" r="1.7" fill="#2358d2"/></g>
<g><path d="M137.4 7 L152.6 6.6 L149 12 L145.6 16.2 L141.4 13.8 Z" fill="url(#yel)" stroke="#c8920e" stroke-width="0.7"/><ellipse cx="145.2" cy="5" rx="8" ry="2.7" fill="#4aa6d8" stroke="#2f86bc" stroke-width="0.5"/><path d="M142 4.4 C142.8 2.6 143.6 1.4 144 0.4 L146.4 0.4 C146.8 1.4 147.6 2.6 148.6 4.4 Z" fill="#6cbce6"/><circle cx="149.5" cy="11.5" r="4.3" fill="url(#redb)" stroke="#b01408" stroke-width="0.5"/><rect x="148.2" y="10.2" width="2.7" height="2.7" fill="#fff"/></g>
<g stroke="#505050" stroke-width="1.1" fill="#505050"><line x1="231.5" y1="3" x2="231.5" y2="16"/><line x1="229" y1="13.7" x2="242" y2="13.7"/><path d="M231.5 1.8 L229.9 4.4 L233.1 4.4 Z" stroke="none"/><path d="M243.4 13.7 L240.8 12.1 L240.8 15.3 Z" stroke="none"/></g>
<path d="M237.6 4 L237.6 11.6 M237.6 4.6 L239.8 4.6 M235.2 10.8 L237.6 10.8" stroke="#1f9a1f" stroke-width="1.3" fill="none"/>
<g stroke="#505050" stroke-width="1.1" fill="#505050"><line x1="259.5" y1="3" x2="259.5" y2="16"/><line x1="257" y1="13.7" x2="270" y2="13.7"/><path d="M259.5 1.8 L257.9 4.4 L261.1 4.4 Z" stroke="none"/><path d="M271.4 13.7 L268.8 12.1 L268.8 15.3 Z" stroke="none"/></g>
<line x1="265.6" y1="0" x2="265.6" y2="12" stroke="#169016" stroke-width="1.2"/><rect x="263.4" y="2.6" width="4.5" height="7.3" fill="#45e045" stroke="#169016" stroke-width="0.9"/>
<g stroke="#505050" stroke-width="1.1" fill="#505050"><line x1="287.5" y1="3" x2="287.5" y2="16"/><line x1="285" y1="13.7" x2="298" y2="13.7"/><path d="M287.5 1.8 L285.9 4.4 L289.1 4.4 Z" stroke="none"/><path d="M299.4 13.7 L296.8 12.1 L296.8 15.3 Z" stroke="none"/></g>
<path d="M286.4 11 C289 9.5 290.5 5.2 292.4 5.2 C294 5.2 295.5 8.4 297.8 9.6" stroke="#2b9a2b" stroke-width="1.3" fill="none"/>
<g><line x1="326.6" y1="9.4" x2="332" y2="14.8" stroke="url(#hand)" stroke-width="2.8" stroke-linecap="round"/><line x1="326.6" y1="9.4" x2="332" y2="14.8" stroke="#e0b52c" stroke-width="1.8" stroke-linecap="round"/><circle cx="323" cy="5.8" r="5.2" fill="url(#lens)" stroke="#3a78c6" stroke-width="1.2"/><line x1="320" y1="5.8" x2="326" y2="5.8" stroke="#3a72b8" stroke-width="1.6"/><line x1="323" y1="2.8" x2="323" y2="8.8" stroke="#3a72b8" stroke-width="1.6"/></g>
<g><line x1="354.6" y1="9.4" x2="360" y2="14.8" stroke="url(#hand)" stroke-width="2.8" stroke-linecap="round"/><line x1="354.6" y1="9.4" x2="360" y2="14.8" stroke="#e0b52c" stroke-width="1.8" stroke-linecap="round"/><circle cx="351" cy="5.8" r="5.2" fill="url(#lens)" stroke="#3a78c6" stroke-width="1.2"/><line x1="348" y1="5.8" x2="354" y2="5.8" stroke="#3a72b8" stroke-width="1.6"/></g>
<g><rect x="373" y="0" width="8" height="8" fill="url(#grn)"/><rect x="381" y="0" width="8" height="8" fill="url(#blu)"/><rect x="373" y="8" width="8" height="8" fill="url(#blu)"/><rect x="381" y="8" width="8" height="8" fill="url(#grn)"/><rect x="374.3" y="3.2" width="5.4" height="3.6" fill="#fff"/><rect x="382.3" y="3.2" width="5.4" height="3.6" fill="#fff"/><rect x="374.3" y="11.2" width="5.4" height="3.6" fill="#fff"/><rect x="382.3" y="11.2" width="5.4" height="3.6" fill="#fff"/><rect x="375.3" y="4.4" width="3.4" height="0.9" fill="#b8e4a0"/><rect x="383.3" y="4.4" width="3.4" height="0.9" fill="#b4c8f4"/><rect x="375.3" y="12.4" width="3.4" height="0.9" fill="#b4c8f4"/><rect x="383.3" y="12.4" width="3.4" height="0.9" fill="#b8e4a0"/></g>
<g stroke="#505050" stroke-width="1.1" fill="#505050"><line x1="411.5" y1="3" x2="411.5" y2="16"/><line x1="409" y1="13.7" x2="422" y2="13.7"/><path d="M411.5 1.8 L409.9 4.4 L413.1 4.4 Z" stroke="none"/><path d="M423.4 13.7 L420.8 12.1 L420.8 15.3 Z" stroke="none"/></g>
<path d="M416 4.2 L416 10.8 L420.4 7.5 Z" fill="#7fe07f" stroke="#1f9a1f" stroke-width="0.9"/>
<g stroke="#505050" stroke-width="1.1" fill="#505050"><line x1="439.5" y1="3" x2="439.5" y2="16"/><line x1="437" y1="13.7" x2="450" y2="13.7"/><path d="M439.5 1.8 L437.9 4.4 L441.1 4.4 Z" stroke="none"/><path d="M451.4 13.7 L448.8 12.1 L448.8 15.3 Z" stroke="none"/></g>
<line x1="445.4" y1="2" x2="445.4" y2="12" stroke="#2070a8" stroke-width="1.2"/><path d="M446.3 7.5 L449.6 5.3 L449.6 9.7 Z M449 7.5 L451.2 7.5" fill="#d04010" stroke="#d04010" stroke-width="0.8"/>
<g><path d="M470.5 1 L478.5 1 L481.5 4 L481.5 13.4 L470.5 13.4 Z" fill="#fbfbfb" stroke="#8a8a8a" stroke-width="0.9"/><path d="M478.5 1 L478.5 4 L481.5 4" fill="#e0e0e0" stroke="#8a8a8a" stroke-width="0.7"/><path d="M475.6 3.6 C474 3.2 473.4 4.2 473.4 5.6 L473.4 10.6 M472.2 6.6 L475 6.6" stroke="#505030" stroke-width="0.9" fill="none"/><path d="M478 6.2 L481.8 6.2 L481.8 10 L485.8 10 L485.8 13.8 L481.8 13.8 L481.8 17.6 L478 17.6 L478 13.8 L474 13.8 L474 10 L478 10 Z" fill="url(#plusg)" stroke="#0b7d0b" stroke-width="1"/></g>
<path d="M491.2 6.7 L497.8 6.7 L494.5 10.2 Z" fill="#000"/>
<path d="M530.2 6.7 L536.8 6.7 L533.5 10.2 Z" fill="#000"/>
<path d="M569.2 6.7 L575.8 6.7 L572.5 10.2 Z" fill="#000"/>
<path d="M875.2 6.7 L881.8 6.7 L878.5 10.2 Z" fill="#000"/>
<g><rect x="514.6" y="-0.6" width="2.8" height="1.6" fill="#1d63c4"/><circle cx="516" cy="7.8" r="6.8" fill="#fdfdfd" stroke="url(#ringg)" stroke-width="2.6"/><line x1="520.60" y1="7.80" x2="521.60" y2="7.80" stroke="#9a9a9a" stroke-width="0.6"/><line x1="519.98" y1="10.10" x2="520.85" y2="10.60" stroke="#9a9a9a" stroke-width="0.6"/><line x1="518.30" y1="11.78" x2="518.80" y2="12.65" stroke="#9a9a9a" stroke-width="0.6"/><line x1="516.00" y1="12.40" x2="516.00" y2="13.40" stroke="#9a9a9a" stroke-width="0.6"/><line x1="513.70" y1="11.78" x2="513.20" y2="12.65" stroke="#9a9a9a" stroke-width="0.6"/><line x1="512.02" y1="10.10" x2="511.15" y2="10.60" stroke="#9a9a9a" stroke-width="0.6"/><line x1="511.40" y1="7.80" x2="510.40" y2="7.80" stroke="#9a9a9a" stroke-width="0.6"/><line x1="512.02" y1="5.50" x2="511.15" y2="5.00" stroke="#9a9a9a" stroke-width="0.6"/><line x1="513.70" y1="3.82" x2="513.20" y2="2.95" stroke="#9a9a9a" stroke-width="0.6"/><line x1="516.00" y1="3.20" x2="516.00" y2="2.20" stroke="#9a9a9a" stroke-width="0.6"/><line x1="518.30" y1="3.82" x2="518.80" y2="2.95" stroke="#9a9a9a" stroke-width="0.6"/><line x1="519.98" y1="5.50" x2="520.85" y2="5.00" stroke="#9a9a9a" stroke-width="0.6"/><path d="M516 3.8 L516 8 L518.8 8" stroke="#303030" stroke-width="1.1" fill="none"/><path d="M515 10.8 L517 10.8" stroke="#6aa6ea" stroke-width="0.8"/></g>
<g><rect x="547.5" y="1.5" width="15.4" height="13" fill="#fdfdfd" stroke="#3b78c8" stroke-width="1"/><rect x="547" y="1" width="16.4" height="2.6" fill="#3b78c8"/><rect x="548.4" y="1.6" width="8" height="0.8" fill="#9cc4f0"/><line x1="548" y1="8.6" x2="562.4" y2="8.6" stroke="#7aa4dc" stroke-width="0.9"/><path d="M549.4 7.2 L551.6 7.2 L553.6 5.6 L555.6 6.4 L557.8 5.2 L560.8 5.2" stroke="#a42a12" stroke-width="1.3" fill="none" shape-rendering="crispEdges"/><path d="M550 12.2 L552 11.4 L553.8 12.4 L556.2 10.4 L558.2 10.4 L560.6 12.6" stroke="#1f9a2f" stroke-width="1.3" fill="none" shape-rendering="crispEdges"/></g>
<path d="M599 1 L599 12.4 L601.9 10 L604.2 15 L606.2 14.1 L603.9 9.3 L607.6 9.2 Z" fill="#505050"/>
<g stroke="#505050" stroke-width="1.1"><line x1="624" y1="8.3" x2="639" y2="8.3"/><line x1="631.5" y1="1" x2="631.5" y2="16"/></g><rect x="631" y="7.8" width="1" height="1" fill="#f0f0f0"/>
<g stroke="#505050" stroke-width="1.2"><line x1="665.5" y1="2" x2="665.5" y2="15"/><line x1="688" y1="8.3" x2="700" y2="8.3"/><line x1="715.8" y1="15" x2="728" y2="2.8"/></g>
<g stroke="#505050" stroke-width="0.9" fill="none"><line x1="741.5" y1="9.8" x2="751.5" y2="1.6"/><line x1="743.2" y1="14" x2="755.5" y2="4"/><line x1="746.5" y1="14.6" x2="755.8" y2="7"/><path d="M744.4 7.6 L743.4 13.8 M747 5.4 L746 11.6 M749.6 3.4 L748.6 9.6 M752.6 0 L752 6.8"/></g>
<text x="752.6" y="16.6" font-size="6.6" font-weight="bold" fill="#404040">E</text>
<g stroke="#606060" stroke-width="0.9" stroke-dasharray="1 1"><line x1="771" y1="1.4" x2="784.5" y2="1.4"/><line x1="771" y1="4.6" x2="784.5" y2="4.6"/><line x1="771" y1="8.6" x2="784.5" y2="8.6"/><line x1="771" y1="12.4" x2="780" y2="12.4"/></g>
<text x="780.8" y="16.6" font-size="6.6" font-weight="bold" fill="#404040">F</text>
<text x="801.8" y="12.7" font-size="11.8" fill="#505050" stroke="#505050" stroke-width="0.35">A</text>
<rect x="828.4" y="2.4" width="11.6" height="12" fill="none" stroke="#505050" stroke-width="0.9" stroke-dasharray="1 1"/><rect x="827" y="1" width="2.4" height="1.6" fill="#505050"/>
<path d="M830.2 5.6 L838.2 5.6 M834.2 5.6 L834.2 12.8" stroke="#505050" stroke-width="1.4" fill="none"/>
<g fill="#505050"><path d="M858.6 1.8 L862 4.6 L858.6 6.2 L855.2 4.6 Z"/><path d="M865.6 14.8 L862.2 12 L865.6 10.4 L869 12 Z"/><path d="M857.6 9 L859.8 11.2 L864.6 5.6" stroke="#505050" stroke-width="1.3" fill="none"/></g>
<text transform="translate(902.2,12) scale(1.02,1)" font-size="9.8" fill="#383838" stroke="#383838" stroke-width="0.15">M1</text>
<text transform="translate(930.2,12) scale(1.0,1)" font-size="9.8" fill="#383838" stroke="#383838" stroke-width="0.15">M5</text>
<text transform="translate(956.4,12) scale(0.955,1)" font-size="9.8" fill="#383838" stroke="#383838" stroke-width="0.15">M15</text>
<text transform="translate(984.2,12) scale(0.955,1)" font-size="9.8" fill="#383838" stroke="#383838" stroke-width="0.15">M30</text>
<text transform="translate(1015.2,12) scale(1.01,1)" font-size="9.8" fill="#383838" stroke="#383838" stroke-width="0.15">H1</text>
<text transform="translate(1042.2,12) scale(1.03,1)" font-size="9.8" fill="#383838" stroke="#383838" stroke-width="0.15">H4</text>
<text transform="translate(1071.0,12) scale(1.03,1)" font-size="9.8" fill="#383838" stroke="#383838" stroke-width="0.15">D1</text>
<text transform="translate(1098.7,12) scale(1.02,1)" font-size="9.8" fill="#383838" stroke="#383838" stroke-width="0.15">W1</text>
<text transform="translate(1125.2,12) scale(1.02,1)" font-size="9.8" fill="#383838" stroke="#383838" stroke-width="0.15">MN</text>
<g><line x1="1615.6" y1="8.6" x2="1610.8" y2="13.4" stroke="#2a5bd0" stroke-width="2.6" stroke-linecap="round"/><circle cx="1618.7" cy="5.4" r="3.9" fill="#fbfdff" stroke="#2a5bd0" stroke-width="1.2"/></g>
<g><path d="M1636 10.5 C1636 7 1640 5.2 1643.5 5.2 C1647 5.2 1650 7 1650 10.5 C1650 13.4 1646.6 14.6 1643.5 14.6 C1642.4 14.6 1641.4 14.5 1640.6 14.3 L1638.2 16.6 L1638.6 13.8 C1637 13 1636 11.8 1636 10.5 Z" fill="url(#bub)" stroke="#b4b8c2" stroke-width="0.9"/><circle cx="1649.5" cy="5.4" r="8.4" fill="url(#redb)"/></g>
<text x="1649.4" y="9.6" font-size="11" fill="#fff" text-anchor="middle">1</text>
</svg>
</div>
</body>
</html>
